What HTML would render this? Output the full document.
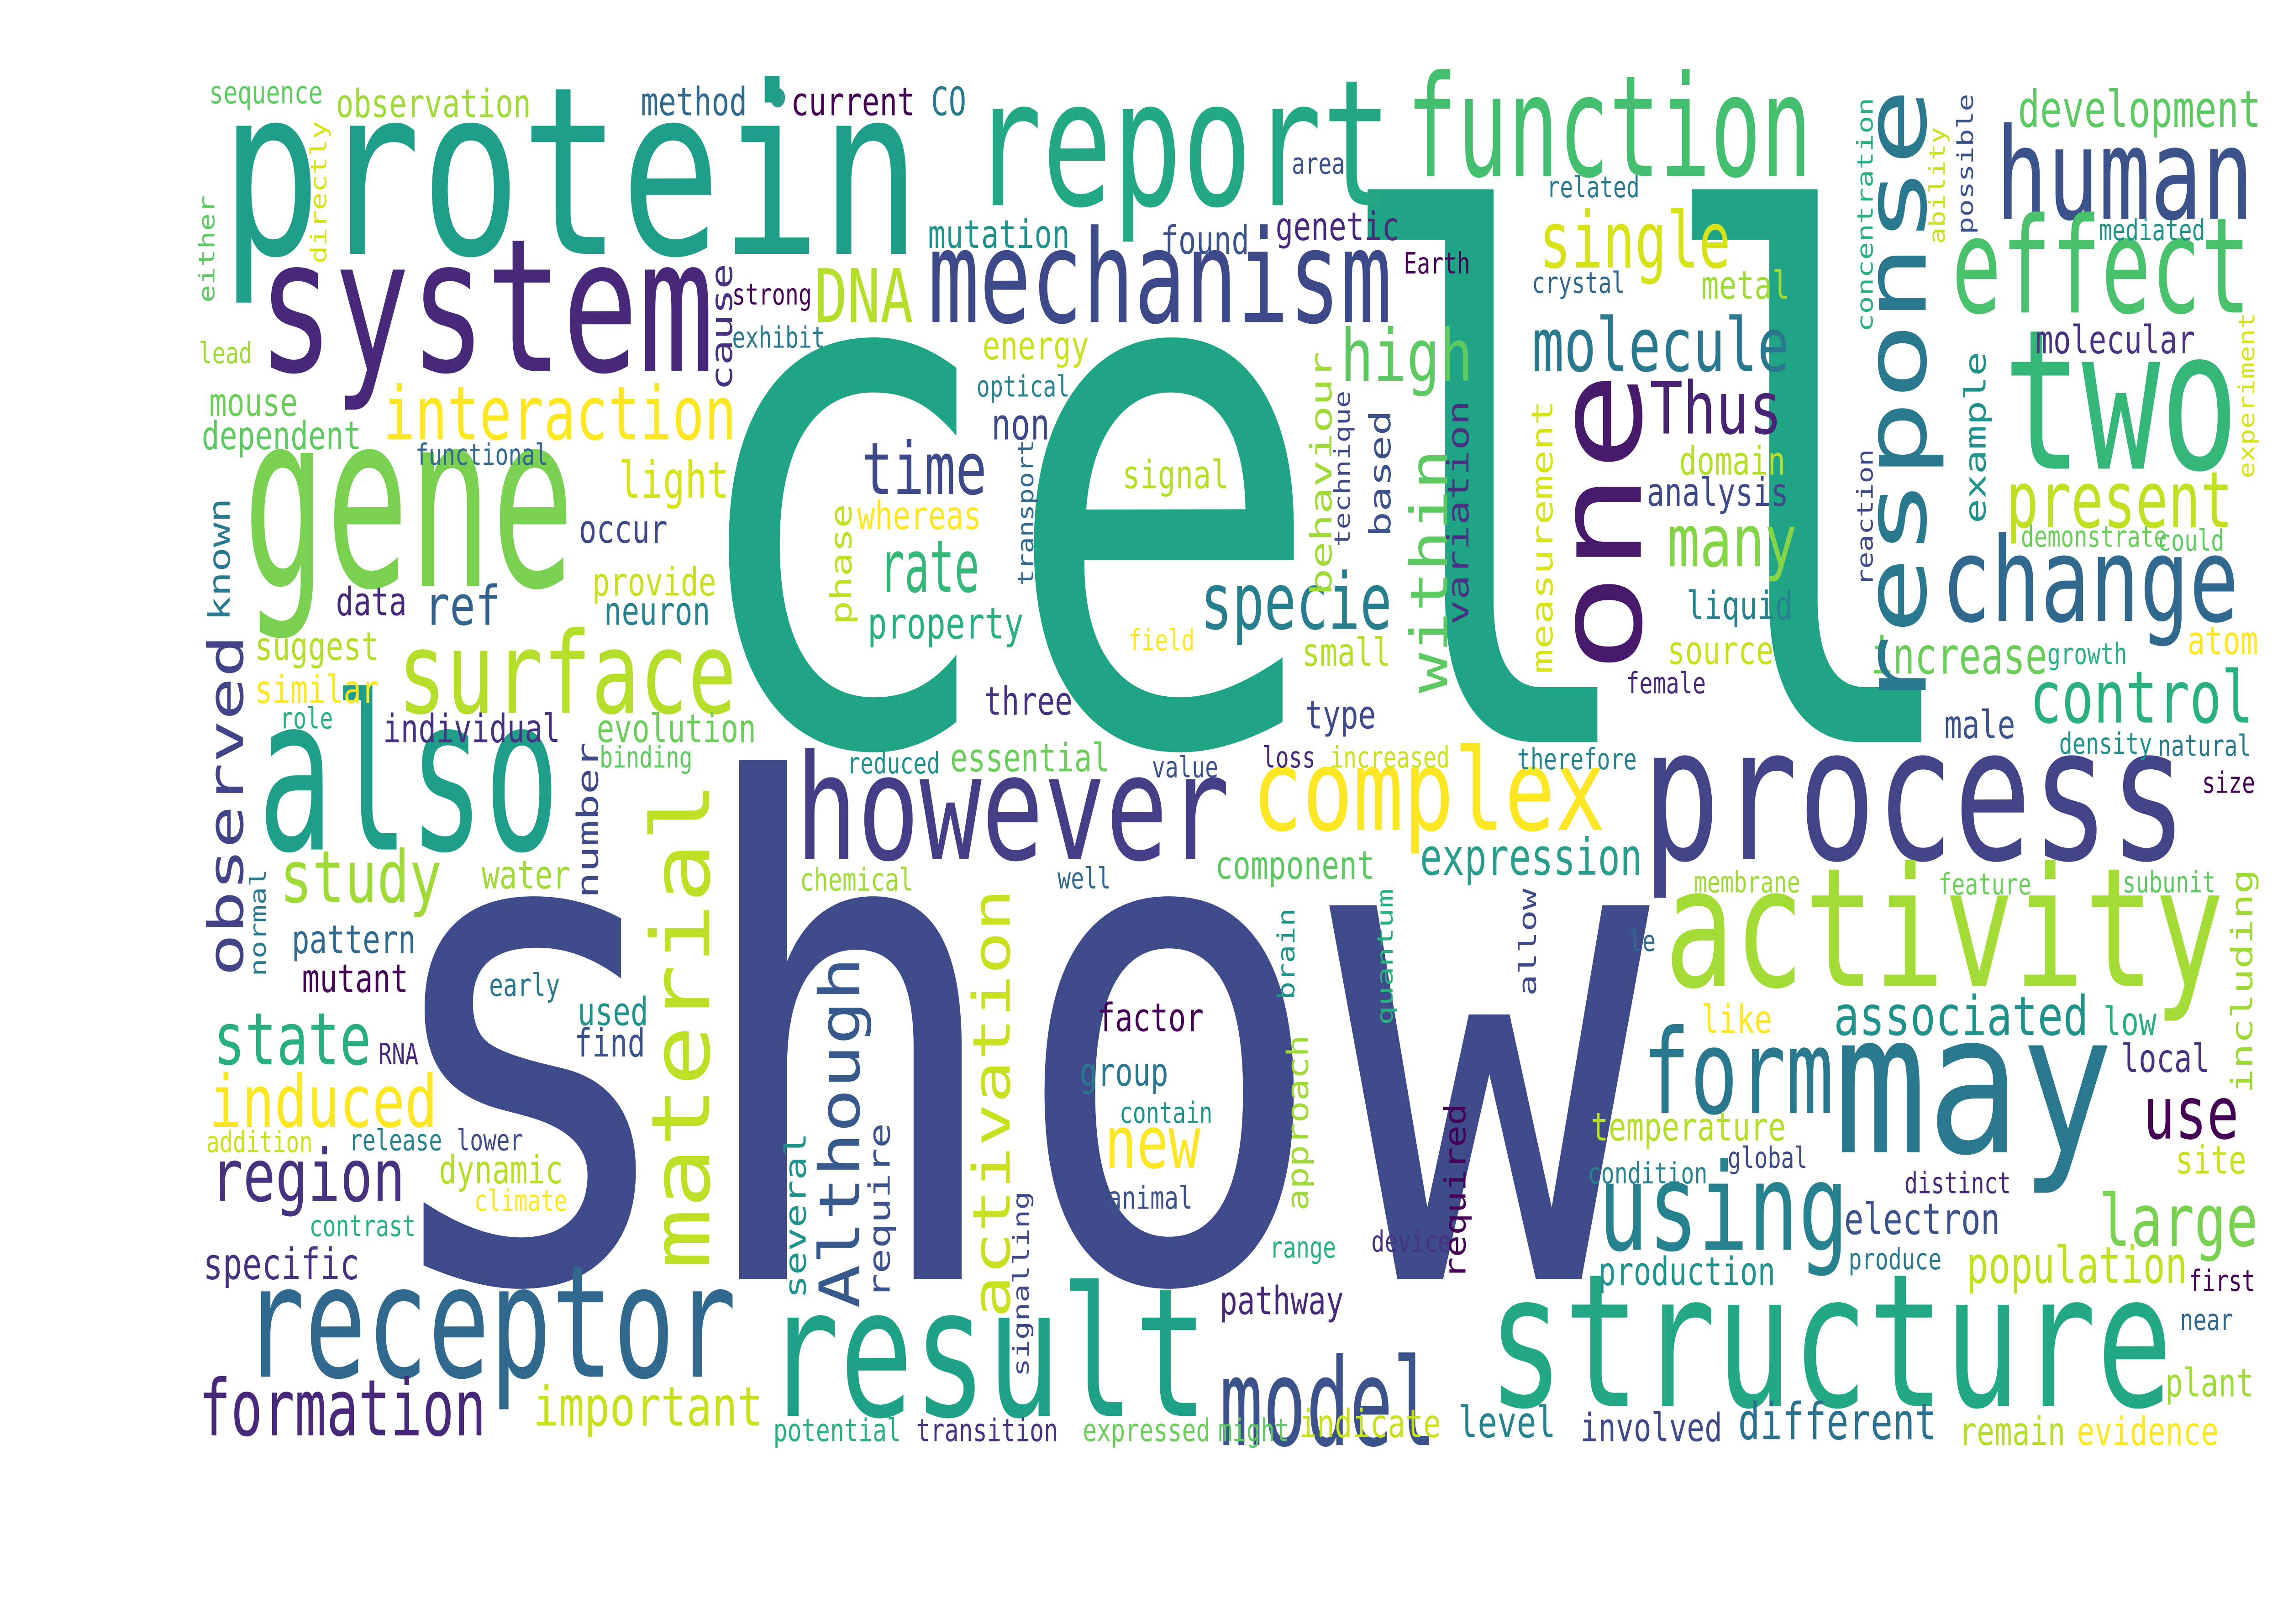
<!DOCTYPE html>
<html><head><meta charset="utf-8"><title>Word cloud</title>
<style>html,body{margin:0;padding:0;background:#fff;overflow:hidden;width:100%;height:100%}svg{display:block;width:100vw;height:100vh}text{font-family:"DejaVu Sans Mono","Liberation Mono",monospace}</style>
</head><body>
<svg id="cloud" xmlns="http://www.w3.org/2000/svg" viewBox="0 0 1550 831.6" preserveAspectRatio="none" overflow="hidden">
<rect x="0" y="0" width="1550" height="831.6" fill="#ffffff"/>
<circle cx="528" cy="50" r="5" fill="#2a9d8c"/>
</svg>
<script>
const words = ["show","cell","protein","system","gene","also","report","function","human","mechanism","effect","two","change","process","activity","may","form","using","structure","result","model","receptor","formation","however","complex","surface","interaction","DNA","single","molecule","Thus","high","time","rate","specie","many","present","control","study","state","induced","region","new","use","large","important","associated","expression","population","different","development","increase","light","ref"];
const wordX = [250,460,150,175,165,175,660,955,1355,630,1325,1360,1318,1115,1130,1245,1115,1085,1010,520,828,165,135,540,850,270,260,553,1045,1040,1120,910,585,597,815,1132,1362,1378,190,145,142,143,750,1455,1425,362,1245,964,1335,1180,1370,1270,420,288];
const wordY = [655,380,130,190,300,435,105,90,112,165,160,240,318,440,505,590,570,640,720,725,740,705,735,440,425,365,225,165,137,190,222,195,253,303,322,290,270,370,462,545,577,615,598,583,638,730,530,448,657,737,65,345,255,320];
const wordSize = [350,370,120,95,125,110,90,72,65,66,68,100,60,95,85,100,60,62,95,92,62,80,40,75,58,58,38,38,40,38,37,37,37,37,40,37,40,37,37,37,37,37,37,37,37,28,28,26,26,26,26,26,26,28];
const wordWidth = [870,880,475,310,225,205,285,275,175,315,203,160,202,370,380,190,130,170,465,300,147,335,195,295,240,230,240,67,130,175,90,90,85,68,130,88,154,152,110,107,155,132,65,65,108,156,173,151,150,135,165,120,75,52];
const wordColor = ["#3e4a89","#20a486","#1f9e89","#482878","#7ad151","#1f9e89","#22a884","#44bf70","#3b528b","#3e4989","#4ac16d","#35b779","#31688e","#414487","#a5db36","#2a788e","#2a788e","#26828e","#22a884","#1fa187","#3b528b","#31688e","#482878","#433e85","#fde725","#b5de2b","#fde725","#b5de2b","#d8e219","#2a788e","#482475","#5ec962","#3e4989","#35b779","#277f8e","#86d549","#c2df23","#2ab07f","#a0da39","#29af7f","#fde725","#46327e","#fde725","#440154","#7ad151","#c8e020","#21918c","#2a9d8c","#c2df23","#2c728e","#5ec962","#6ccd5a","#d8e219","#33638d"];

const small = ["sequence","observation","method","current","CO","mutation","found","genetic","energy","optical","non","signal","whereas","property","three","essential","component","chemical","well","factor","group","contain","animal","pathway","indicate","level","involved","remain","evidence","potential","transition","expressed","might","plant","near","first","produce","production","electron","distinct","site","condition","global","temperature","like","low","local","feature","subunit","membrane","le","size","natural","density","male","female","source","liquid","analysis","domain","atom","growth","molecular","demonstrate","could","metal","crystal","Earth","related","mediated","area","data","provide","neuron","occur","suggest","similar","role","individual","evolution","binding","water","pattern","mutant","early","used","find","RNA","addition","release","lower","dynamic","climate","contrast","specific","mouse","dependent","lead","functional","strong","exhibit","reduced","value","loss","increased","therefore","type","small","field","range","device"];
const smallX = [142,228,435,537,632,630,788,866,667,663,673,762,582,589,668,645,825,543,718,745,733,760,752,828,882,990,1073,1330,1410,525,622,735,827,1470,1480,1486,1255,1085,1252,1293,1477,1078,1173,1080,1155,1428,1440,1316,1441,1150,1106,1495,1465,1398,1320,1104,1132,1145,1118,1140,1485,1390,1382,1372,1465,1155,1040,953,1050,1425,877,228,402,410,393,173,173,190,260,405,407,327,198,205,332,392,390,257,140,237,310,298,322,210,138,142,137,135,282,497,497,575,782,857,903,1030,886,884,766,862,931];
const smallY = [53,60,59,59,59,127,130,123,184,203,225,250,271,327,366,395,450,456,455,528,556,575,619,673,736,736,738,740,740,738,738,738,738,715,681,661,650,658,632,611,601,606,598,584,529,530,549,458,457,457,487,406,387,386,378,355,340,317,259,243,335,340,181,280,282,153,150,140,101,123,89,315,305,320,278,338,360,373,380,380,393,455,488,508,510,525,541,545,590,589,589,606,620,633,655,213,230,186,238,156,178,396,398,393,393,394,373,341,333,644,641];
const smallSize = [16,20,20,20,20,20,20,20,20,15,22,20,20,22,20,20,20,16,15,20,20,15,16,20,20,22,20,20,20,16,16,16,16,20,15,15,15,20,22,15,20,15,15,20,20,20,20,15,15,15,15,15,15,15,20,15,20,20,20,20,20,15,20,15,15,20,15,15,15,15,15,20,20,20,20,20,20,15,20,20,15,20,20,20,16,20,20,15,15,15,15,20,15,15,22,20,20,15,15,15,15,15,15,15,15,15,20,20,15,15,15];
const palette = ["#5ec962","#a0da39","#31688e","#440154","#2a788e","#21918c","#3b528b","#482878","#c8e020","#26828e","#3e4989","#b5de2b","#fde725","#2ab07f","#46327e","#6ccd5a"];

const vert = ["one","response","material","within","observed","Although","activation","known","either","directly","cause","phase","transport","behaviour","technique","based","variation","measurement","reaction","concentration","ability","possible","example","experiment","including","number","normal","several","require","signalling","approach","brain","quantum","allow","required"];
const vertX = [1090,1290,465,972,155,572,675,150,141,217,491,572,697,898,912,938,991,1048,1267,1267,1316,1335,1342,1526,1523,400,176,541,598,694,882,874,941,1038,989];
const vertBottom = [345,365,650,355,500,670,675,318,155,135,200,320,300,305,280,275,320,345,300,170,125,120,268,245,560,460,500,665,665,705,620,512,525,510,655];
const vertTop = [190,45,400,230,325,490,455,255,100,62,135,258,225,180,200,210,205,205,230,50,65,48,180,160,445,380,445,580,575,610,530,465,455,455,565];
const vertSize = [80,58,55,35,33,38,35,20,15,15,20,20,15,20,15,20,20,20,15,15,15,15,20,15,20,20,15,20,20,15,20,16,15,16,20];
const vertColor = ["#481a6c","#2a788e","#bddf26","#5ec962","#414487","#38598c","#c8e020","#2a788e","#5ec962","#d8e219","#46327e","#c2df23","#31688e","#a0da39","#3e4989","#3b528b","#46327e","#d8e219","#3e4989","#2ab07f","#c8e020","#3b528b","#21918c","#d8e219","#a0da39","#3e4989","#2a788e","#21918c","#3b528b","#3e4989","#a0da39","#21918c","#2ab07f","#3e4989","#440154"];

const svg = document.getElementById('cloud');
const NS = 'http://www.w3.org/2000/svg';
function key(t){return t.toLowerCase().replace(/[^a-z0-9]+/g,'-');}

words.forEach((w,i)=>{
  const el = document.createElementNS(NS,'text');
  
  
  el.setAttribute('x', wordX[i]);
  el.setAttribute('y', wordY[i]);
  el.setAttribute('font-size', wordSize[i]);
  el.setAttribute('fill', wordColor[i]);
  el.setAttribute('textLength', wordWidth[i]);
  el.setAttribute('lengthAdjust', 'spacingAndGlyphs');
  el.textContent = w;
  svg.appendChild(el);
});

small.forEach((w,i)=>{
  const el = document.createElementNS(NS,'text');
  
  
  el.setAttribute('x', smallX[i]);
  el.setAttribute('y', smallY[i]);
  el.setAttribute('font-size', smallSize[i]);
  el.setAttribute('fill', palette[i % palette.length]);
  el.textContent = w;
  svg.appendChild(el);
});

vert.forEach((w,i)=>{
  const el = document.createElementNS(NS,'text');
  
  
  const bx = vertX[i] + 0.3*vertSize[i];
  const by = vertBottom[i];
  el.setAttribute('x', bx);
  el.setAttribute('y', by);
  el.setAttribute('font-size', vertSize[i]);
  el.setAttribute('fill', vertColor[i]);
  el.setAttribute('textLength', vertBottom[i]-vertTop[i]);
  el.setAttribute('lengthAdjust', 'spacingAndGlyphs');
  el.setAttribute('transform', 'rotate(-90 ' + bx + ' ' + by + ')');
  el.textContent = w;
  svg.appendChild(el);
});
</script>
</body></html>
